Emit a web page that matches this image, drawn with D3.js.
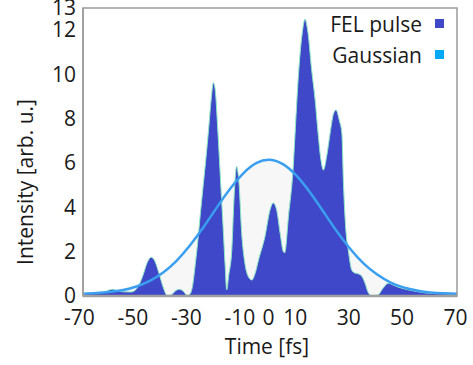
<!DOCTYPE html>
<html>
<head>
<meta charset="utf-8">
<script src="https://cdn.jsdelivr.net/npm/d3@7"></script>
<style>
  body { margin: 0; background: #fff; }
  text { font-family: 'Open Sans', sans-serif; fill: #1a1a1a; }
</style>
</head>
<body>
<svg id="chart" width="473" height="365"></svg>
<script>
// FEL pulse (time in fs, intensity in arb. u.)
const felTime = [-70, -66, -62, -59, -56, -52, -49.5, -47.5, -46, -44.5, -43, -41.5, -40, -38.5,
  -37, -35.5, -34, -32.5, -31, -30, -29, -28, -27, -26, -25, -24, -23, -22, -21.2, -20.5,
  -19.5, -18.5, -17.5, -16.8, -16.2, -15.5, -14.3, -13.5, -12.5, -11.6, -10.6, -9.4, -8,
  -6.8, -5.5, -4.3, -1.9, 0, 1.2, 2.5, 3.8, 5, 5.5, 6.9, 8.7, 9.5, 10.6, 12, 13.1, 14.2,
  15.6, 16.9, 18, 19, 20, 21.2, 22.5, 23.7, 24.7, 26, 26.9, 27.5, 28.5, 29.3, 30.6, 31.5,
  33, 34.3, 35.5, 36.8, 38, 40.5, 42, 44.3, 46, 48, 50, 55, 60, 65, 70];
const felIntensity = [0.10, 0.12, 0.18, 0.30, 0.20, 0.18, 0.40, 0.95, 1.50, 1.75, 1.55, 1.00,
  0.40, 0.03, 0.05, 0.22, 0.30, 0.22, 0.03, 0.08, 0.45, 1.40, 2.50, 3.80, 5.00, 6.20, 7.50,
  8.90, 9.63, 9.30, 7.40, 5.20, 3.00, 1.40, 0.27, 0.90, 2.08, 4.33, 5.84, 5.09, 2.83, 1.48,
  0.85, 0.72, 1.05, 1.63, 2.68, 3.88, 4.20, 3.88, 2.83, 2.00, 1.95, 3.58, 5.84, 7.60, 9.90,
  11.8, 12.49, 11.9, 10.2, 8.85, 7.35, 6.20, 5.69, 6.30, 7.35, 8.20, 8.40, 7.90, 7.35, 5.09,
  2.83, 2.08, 1.17, 1.05, 1.00, 0.90, 0.60, 0.15, 0.03, 0.05, 0.30, 0.57, 0.50, 0.40, 0.33,
  0.20, 0.12, 0.10, 0.08];

// Gaussian fit, every 5 fs
const gaussTime = [-70, -65, -60, -55, -50, -45, -40, -35, -30, -25, -20, -15, -10, -5, 0,
  5, 10, 15, 20, 25, 30, 35, 40, 45, 50, 55, 60, 65, 70];
const gaussIntensity = [0.10, 0.13, 0.18, 0.27, 0.43, 0.68, 1.06, 1.59, 2.28, 3.09, 3.98,
  4.83, 5.54, 6.01, 6.15, 5.94, 5.42, 4.67, 3.80, 2.92, 2.13, 1.47, 0.98, 0.62, 0.39, 0.25,
  0.16, 0.12, 0.10];

const xTicks = [-70, -50, -30, -10, 0, 10, 30, 50, 70];
const yTicks = [0, 2, 4, 6, 8, 10, 12, 13];
const seriesNames = ['FEL pulse', 'Gaussian'];
const seriesColors = ['#3f48c8', '#00a8f8'];

const margin = { top: 8, right: 16, bottom: 69, left: 83 };
const svg = d3.select('#chart');
const width = 473 - margin.left - margin.right;
const height = 365 - margin.top - margin.bottom;
const g = svg.append('g').attr('transform', `translate(${margin.left},${margin.top})`);

const x = d3.scaleLinear().domain([-70, 70]).range([0, width]);
const y = d3.scaleLinear().domain([0, 13]).range([height, 0]);

const fel = felTime.map((t, i) => ({ t, v: felIntensity[i] }));
const gauss = gaussTime.map((t, i) => ({ t, v: gaussIntensity[i] }));

// light fill under the gaussian
g.append('path')
  .datum(gauss)
  .attr('fill', '#f7f7f7')
  .attr('d', d3.area().x(d => x(d.t)).y0(y(0)).y1(d => y(d.v)).curve(d3.curveNatural));

g.append('path')
  .datum(fel)
  .attr('fill', seriesColors[0])
  .attr('stroke', '#8de8c4')
  .attr('stroke-width', 1)
  .attr('d', d3.area().x(d => x(d.t)).y0(y(0)).y1(d => y(d.v)).curve(d3.curveMonotoneX));

g.append('path')
  .datum(gauss)
  .attr('fill', 'none')
  .attr('stroke', '#3a9ff0')
  .attr('stroke-width', 2.5)
  .attr('d', d3.line().x(d => x(d.t)).y(d => y(d.v)).curve(d3.curveNatural));

// frame
g.append('rect')
  .attr('width', width)
  .attr('height', height)
  .attr('fill', 'none')
  .attr('stroke', '#9a9a9a')
  .attr('stroke-width', 1.5);
g.append('line')
  .attr('x1', 0).attr('x2', width)
  .attr('y1', height).attr('y2', height)
  .attr('stroke', '#a0a0a0')
  .attr('stroke-width', 2.5);
g.append('line')
  .attr('x1', 0).attr('x2', 0)
  .attr('y1', 0).attr('y2', height)
  .attr('stroke', '#a0a0a0')
  .attr('stroke-width', 2);

// plain hyphen for negatives, like the original
const fmt = d => `${d}`;

const xAxis = g.append('g')
  .attr('transform', `translate(0,${height})`)
  .call(d3.axisBottom(x).tickValues(xTicks).tickFormat(fmt).tickSize(0).tickPadding(14));
const yAxis = g.append('g')
  .call(d3.axisLeft(y).tickValues(yTicks).tickFormat(fmt).tickSize(0).tickPadding(7));
[xAxis, yAxis].forEach((a) => {
  a.select('.domain').remove();
  a.selectAll('text').style('font-size', '21px').attr('fill', '#1a1a1a');
});
xAxis.selectAll('text').attr('dx', d => (d < 0 ? -4 : -2));

g.append('text')
  .attr('x', width / 2 - 3)
  .attr('y', height + 58)
  .style('text-anchor', 'middle')
  .style('font-size', '21px')
  .text('Time [fs]');

g.append('text')
  .attr('transform', 'rotate(-90)')
  .attr('x', -174)
  .attr('y', -50)
  .style('text-anchor', 'middle')
  .style('font-size', '21px')
  .text('Intensity [arb. u.]');

// legend
const legend = g.selectAll('g.legend')
  .data(seriesNames)
  .enter().append('g')
  .attr('class', 'legend')
  .attr('transform', (d, i) => `translate(${width - 22},${16 + i * 31})`);
legend.append('rect')
  .attr('x', 0).attr('y', -5)
  .attr('width', 9).attr('height', 9)
  .attr('fill', (d, i) => seriesColors[i]);
legend.append('text')
  .attr('x', -13)
  .attr('y', 8)
  .style('text-anchor', 'end')
  .style('font-size', '21px')
  .text(d => d);
</script>
</body>
</html>
